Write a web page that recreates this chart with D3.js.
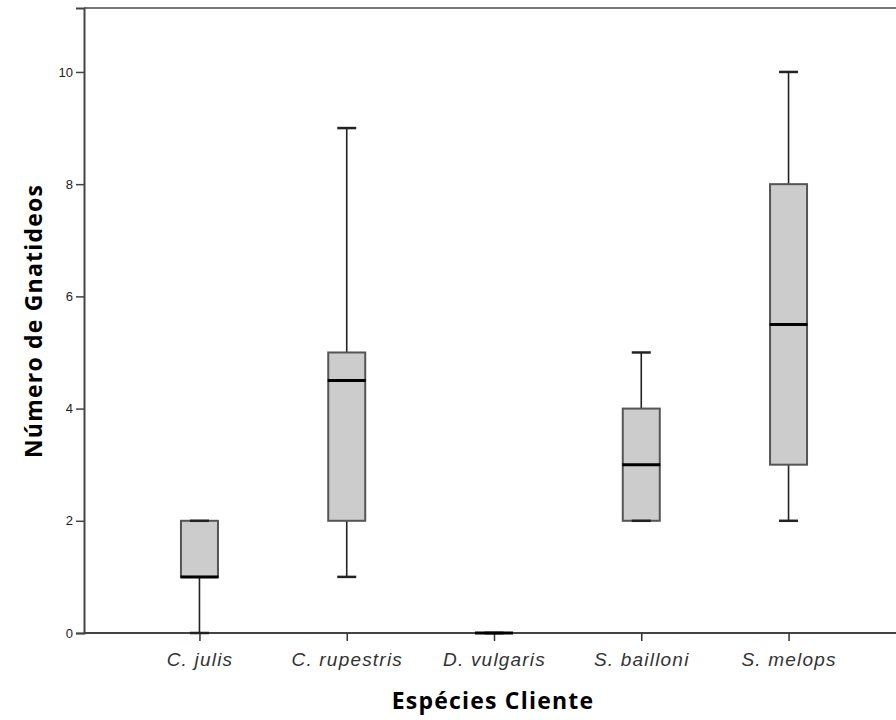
<!DOCTYPE html>
<html lang="pt">
<head>
    <meta charset="UTF-8">
    <title>Número de Gnatideos por Espécie Cliente</title>
    <script src="https://d3js.org/d3.v7.min.js"></script>
    <style>
        html, body {
            margin: 0;
            padding: 0;
            background: #ffffff;
        }
        svg {
            display: block;
        }
    </style>
</head>
<body>
    <svg id="chart"></svg>

    <script>
        // boxplot data
        const categories = ["C. julis", "C. rupestris", "D. vulgaris", "S. bailloni", "S. melops"];
        const whiskerLow = [0, 1, 0, 2, 2];
        const q1 = [1, 2, 0, 2, 3];
        const median = [1, 4.5, 0, 3, 5.5];
        const q3 = [2, 5, 0, 4, 8];
        const whiskerHigh = [2, 9, 0, 5, 10];
        const yTicks = [0, 2, 4, 6, 8, 10];

        const width = 896, height = 720;
        const plotLeft = 84, plotTop = 8, plotBottom = 633;
        const boxW = 37, capW = 19;

        const svg = d3.select("#chart")
            .attr("width", width)
            .attr("height", height);

        const y = d3.scaleLinear().domain([0, 11.14]).range([plotBottom, plotTop]);
        const x = d3.scalePoint().domain(categories).range([plotLeft, 904]).padding(0.784);

        const rows = categories.map((c, i) => ({
            cat: c, lo: whiskerLow[i], q1: q1[i], med: median[i], q3: q3[i], hi: whiskerHigh[i]
        }));

        // top frame line
        svg.append("line")
            .attr("x1", plotLeft).attr("x2", width)
            .attr("y1", plotTop).attr("y2", plotTop)
            .attr("stroke", "#777").attr("stroke-width", 2);

        // y axis
        const yAxis = svg.append("g")
            .attr("transform", `translate(${plotLeft},0)`)
            .call(d3.axisLeft(y).tickValues(yTicks).tickSize(8).tickPadding(3));
        yAxis.select(".domain").attr("stroke", "#444").attr("stroke-width", 2);
        yAxis.selectAll(".tick line").attr("stroke", "#444").attr("stroke-width", 1.5);
        yAxis.selectAll(".tick text")
            .attr("font-family", "Arial, 'Liberation Sans', sans-serif")
            .attr("font-size", 13).attr("fill", "#222");

        // x axis
        const xAxis = svg.append("g")
            .attr("transform", `translate(0,${plotBottom})`)
            .call(d3.axisBottom(x).tickSize(8).tickPadding(12).tickSizeOuter(0));
        xAxis.select(".domain")
            .attr("d", `M${plotLeft},0H${width}`)
            .attr("stroke", "#444").attr("stroke-width", 2);
        xAxis.selectAll(".tick line").attr("stroke", "#333").attr("stroke-width", 1.5);
        xAxis.selectAll(".tick text")
            .attr("font-family", "Arial, 'Liberation Sans', sans-serif")
            .attr("font-style", "italic")
            .attr("font-size", 19)
            .attr("letter-spacing", 1.2)
            .attr("fill", "#333");

        const g = svg.append("g");
        const box = g.selectAll("g.box").data(rows).join("g").attr("class", "box");

        // whiskers
        box.append("line")
            .attr("x1", d => x(d.cat)).attr("x2", d => x(d.cat))
            .attr("y1", d => y(d.hi)).attr("y2", d => y(d.q3))
            .attr("stroke", "#222").attr("stroke-width", 1.6);
        box.append("line")
            .attr("x1", d => x(d.cat)).attr("x2", d => x(d.cat))
            .attr("y1", d => y(d.q1)).attr("y2", d => y(d.lo))
            .attr("stroke", "#222").attr("stroke-width", 1.6);

        // boxes
        box.filter(d => d.q3 > d.q1).append("rect")
            .attr("x", d => x(d.cat) - boxW / 2)
            .attr("width", boxW)
            .attr("y", d => y(d.q3))
            .attr("height", d => y(d.q1) - y(d.q3))
            .attr("fill", "#cccccc")
            .attr("stroke", "#555").attr("stroke-width", 2);

        // caps
        box.selectAll("line.cap")
            .data(d => [{ cat: d.cat, v: d.lo }, { cat: d.cat, v: d.hi }])
            .join("line").attr("class", "cap")
            .attr("x1", d => x(d.cat) - capW / 2).attr("x2", d => x(d.cat) + capW / 2)
            .attr("y1", d => y(d.v)).attr("y2", d => y(d.v))
            .attr("stroke", "#222").attr("stroke-width", 2.5);

        // medians
        box.append("line")
            .attr("x1", d => x(d.cat) - boxW / 2 - 0.5).attr("x2", d => x(d.cat) + boxW / 2 + 0.5)
            .attr("y1", d => y(d.med)).attr("y2", d => y(d.med))
            .attr("stroke", "#000").attr("stroke-width", 3);

        // axis titles
        svg.append("text")
            .attr("transform", `translate(42,321) rotate(-90)`)
            .attr("text-anchor", "middle")
            .attr("font-family", "'Open Sans', sans-serif")
            .attr("font-weight", "bold")
            .attr("font-size", 23)
            .attr("letter-spacing", 1.2)
            .attr("fill", "#000")
            .text("Número de Gnatideos");

        svg.append("text")
            .attr("x", 493).attr("y", 709)
            .attr("text-anchor", "middle")
            .attr("font-family", "'Open Sans', sans-serif")
            .attr("font-weight", "bold")
            .attr("font-size", 23)
            .attr("letter-spacing", 1.2)
            .attr("fill", "#000")
            .text("Espécies Cliente");
    </script>
</body>
</html>
